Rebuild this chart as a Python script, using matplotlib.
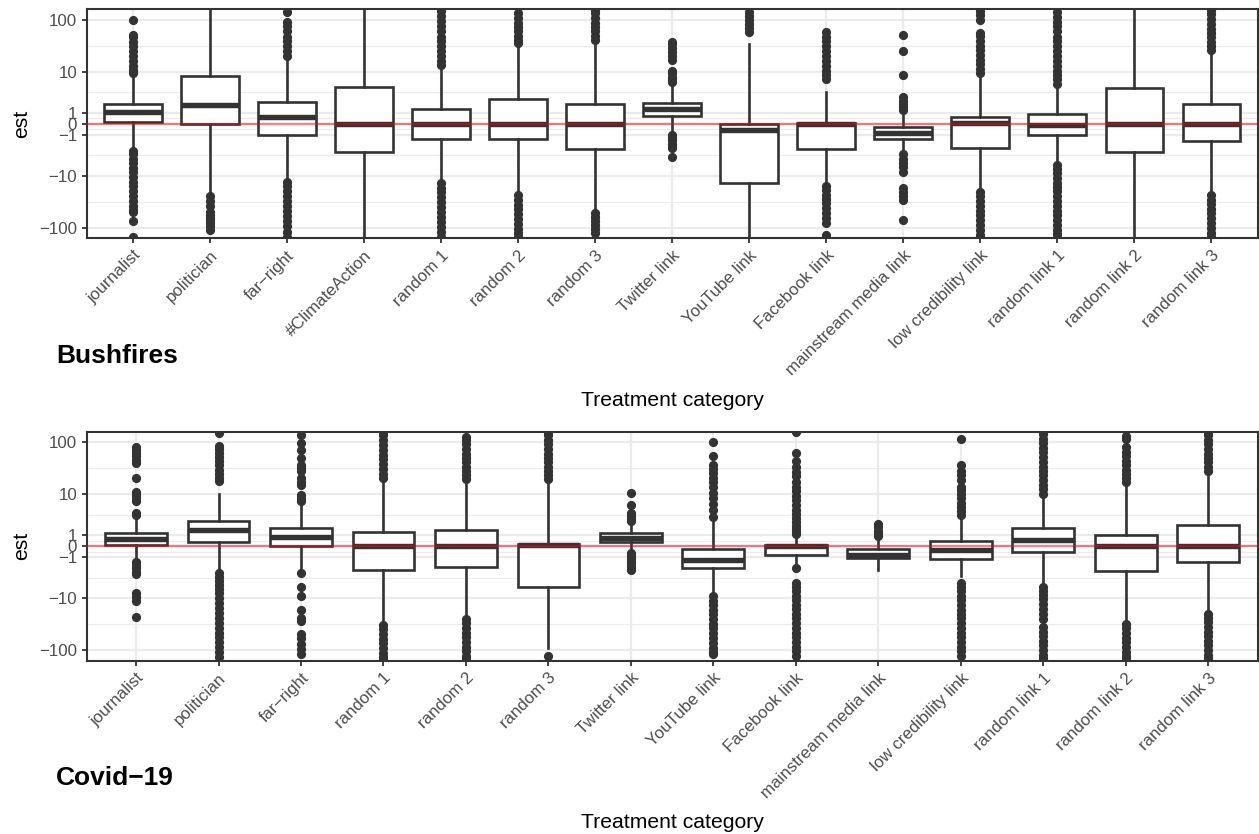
import numpy as np
import matplotlib
matplotlib.use("Agg")
import matplotlib.pyplot as plt
from matplotlib.ticker import FixedLocator

plt.rcParams['font.family'] = ['Liberation Sans', 'DejaVu Sans']

# ---------------- Bushfires ----------------
cats_bush = ["journalist", "politician", "far\u2212right", "#ClimateAction", "random 1",
             "random 2", "random 3", "Twitter link", "YouTube link", "Facebook link",
             "mainstream media link", "low credibility link", "random link 1",
             "random link 2", "random link 3"]
q1_bush = [0.12, 0.0, -0.99, -3.2, -1.5, -1.43, -2.7, 0.67, -14.0, -2.75, -1.47, -2.6, -1.08, -3.2, -1.65]
med_bush = [1.1, 1.85, 0.57, 0.0, 0.0, 0.0, 0.0, 1.43, -0.55, -0.02, -0.85, 0.03, -0.15, 0.0, 0.0]
q3_bush = [2.0, 8.4, 2.23, 5.0, 1.4, 2.65, 1.98, 2.1, 0.0, 0.06, -0.27, 0.57, 0.88, 4.6, 1.93]
lo_bush = [-2.6, -25, -12, -400, -13.5, -23, -51, -0.85, -400, -15, -3.4, -20, -5.6, -400, -23]
hi_bush = [8.6, 400, 18, 400, 12.7, 35, 41, 5.3, 35, 3.9, 0.98, 8.6, 5.3, 400, 25]
out_bush = [
    [9.5, 11, 13, 16, 20, 25, 31, 38, 46, 51, 100,
     -3, -3.6, -4.5, -5.5, -7, -8.5, -10.5, -13, -16, -20, -25, -31, -38, -46, -51, -75, -150],
    [-25, -30, -39, -51, -58, -64, -72, -80, -95, -110],
    [20, 25, 31, 39, 48, 60, 75, 92, 140,
     -13, -16, -20, -25, -31, -39, -48, -60, -75, -95, -120, -150],
    [],
    [13.5, 16, 20, 25, 31, 39, 48, 60, 75, 95, 120, 150,
     -14, -17, -21, -26, -32, -40, -50, -62, -78, -98, -120, -150],
    [36, 42, 50, 60, 72, 88, 110, 136,
     -24, -29, -36, -44, -55, -68, -84, -104, -128, -155],
    [42, 50, 60, 72, 88, 110, 136, 155,
     -52, -62, -75, -90, -108, -125],
    [6.2, 7.0, 8.0, 9.5, 10.2, 17, 20, 24, 29, 34, 38,
     -1.0, -1.3, -1.6, -2.0, -2.3, -2.6, -4.1],
    [59, 70, 85, 100, 120, 145],
    [7.0, 8.5, 10.5, 13, 16, 20, 25, 31, 39, 48, 59,
     -15.5, -19, -23, -28, -34, -42, -52, -64, -80, -140],
    [1.3, 1.6, 2.0, 2.4, 2.9, 8.6, 25, 51,
     -3.6, -4.5, -5.5, -6.8, -8.2, -17, -21, -25, -29, -70],
    [9.5, 11.5, 14, 17, 21, 26, 32, 40, 50, 57, 100, 125, 150,
     -21, -25, -31, -38, -47, -58, -72, -90, -110, -140, -158],
    [5.8, 7, 8.5, 10.5, 13, 16, 20, 25, 31, 39, 48, 60, 75, 92, 115, 140,
     -6, -7.2, -8.8, -11, -13.5, -16.5, -20, -25, -31, -38, -47, -58, -72, -90, -110, -135, -158],
    [],
    [26, 31, 38, 46, 56, 68, 84, 104, 128, 155,
     -24, -29, -35, -43, -53, -65, -80, -100, -125, -155],
]

# ---------------- Covid-19 ----------------
cats_covid = ["journalist", "politician", "far\u2212right", "random 1", "random 2", "random 3",
              "Twitter link", "YouTube link", "Facebook link", "mainstream media link",
              "low credibility link", "random link 1", "random link 2", "random link 3"]
q1_covid = [0.1, 0.37, 0.0, -2.5, -2.05, -6.0, 0.34, -2.25, -0.78, -1.1, -1.24, -0.5, -2.72, -1.48]
med_covid = [0.68, 1.62, 0.89, 0.0, 0.0, 0.07, 0.74, -1.27, 0.0, -0.8, -0.31, 0.53, 0.0, 0.0]
q3_covid = [1.24, 2.8, 1.75, 1.35, 1.59, 0.22, 1.24, -0.25, 0.07, -0.25, 0.43, 1.77, 1.06, 2.18]
lo_covid = [-1.27, -2.9, -2.4, -32, -24, -90, -0.53, -8.5, -1.85, -2.45, -3.5, -5.5, -30, -19]
hi_covid = [2.93, 10.2, 6.1, 20.5, 19, 19, 2.4, 2.93, 1.0, 0.59, 2.9, 9.7, 16.5, 27.5]
out_covid = [
    [3.7, 4.2, 7.4, 8.5, 9.8, 11, 20.5, 40, 46, 54, 62, 72, 83,
     -1.5, -1.9, -2.3, -2.8, -3.2, -7.8, -9.2, -11.5, -22.5],
    [18, 21, 25, 30, 36, 43, 52, 62, 74, 85, 150,
     -3.0, -3.6, -4.4, -5.4, -6.6, -8, -10, -12.5, -15.5, -19, -24, -30, -37, -46, -57, -70, -87, -108, -135],
    [7.4, 8.5, 9.7, 15, 17, 20.5, 27.5, 32, 36, 50, 71, 96, 140,
     -3.0, -5.9, -8.8, -16.6, -24, -27, -49, -58, -78, -95, -121],
    [21, 25, 31, 38, 47, 58, 72, 90, 112, 140, 160,
     -33, -40, -49, -60, -74, -91, -112, -135, -158],
    [19.5, 23.5, 28.5, 34, 41, 50, 61, 75, 92, 112, 126,
     -25, -30, -37, -46, -57, -70, -86, -106, -130, -140],
    [19.5, 23.5, 28.5, 34, 41, 50, 61, 75, 92, 112, 136, 158,
     -130],
    [2.75, 3.1, 3.5, 4.1, 6.1, 10.5,
     -0.65, -0.9, -1.2, -1.5, -1.8, -2.1, -2.45],
    [3.4, 4.7, 6.5, 8.3, 10.5, 14, 17, 21, 26, 31, 36, 54, 103,
     -9, -11, -13.5, -16.5, -20, -25, -31, -38, -47, -58, -72, -90, -110, -120],
    [1.15, 1.4, 1.7, 2.1, 2.6, 3.2, 3.9, 4.8, 6, 7.5, 9.3, 11.5, 14, 17.5, 22, 27, 34, 43, 62, 160,
     -2.3, -4.8, -5.9, -7.2, -8.8, -10.8, -13.2, -16, -20, -24, -30, -37, -46, -57, -70, -86, -106, -130],
    [0.9, 1.2, 1.5, 1.9, 2.35],
    [3.7, 4.5, 5.5, 6.8, 8.3, 10, 12, 14, 19, 23, 28, 36, 117,
     -4.8, -5.9, -7.2, -8.8, -10.8, -13.2, -17, -20, -24, -30, -37, -46, -57, -70, -86, -106, -130],
    [10.2, 12.5, 15, 18.5, 23, 28, 34, 42, 52, 64, 78, 96, 118, 145, 160,
     -5.8, -7, -8.5, -10.5, -13, -16, -20, -25, -36, -44, -54, -66, -81, -100, -122, -140],
    [17, 20.5, 25, 30, 36.5, 44, 54, 66, 80, 115, 135,
     -31, -38, -47, -58, -71, -87, -107, -130, -145],
    [28.5, 34, 41, 50, 61, 75, 92, 112, 136, 158,
     -20, -24, -29, -36, -44, -54, -66, -81, -100, -122, -145],
]

y_ticks = [-100, -10, -1, 0, 1, 10, 100]
y_ticklabels = ["\u2212100", "\u221210", "\u22121", "0", "1", "10", "100"]


def fwd(y):
    return np.arcsinh(np.asarray(y, dtype=float) / 2.0) / np.log(10)


def inv(t):
    return 2.0 * np.sinh(np.asarray(t, dtype=float) * np.log(10))


W, H = 1259, 834
fig = plt.figure(figsize=(W / 100, H / 100), dpi=100)

DARK = '#333333'
GRID = '#EBEBEB'


def draw_panel(rect, cats, q1, med, q3, lo, hi, outs, ylim):
    ax = fig.add_axes(rect)
    ax.set_yscale('function', functions=(fwd, inv))
    n = len(cats)
    stats = []
    for i in range(n):
        stats.append(dict(q1=q1[i], med=med[i], q3=q3[i], whislo=lo[i], whishi=hi[i],
                          fliers=np.array(outs[i], dtype=float)))
    pos = np.arange(1, n + 1)
    ax.bxp(stats, positions=pos, widths=0.75, patch_artist=True, showcaps=False,
           boxprops=dict(facecolor='white', edgecolor=DARK, linewidth=1.9),
           medianprops=dict(color=DARK, linewidth=3.9, solid_capstyle='butt'),
           whiskerprops=dict(color=DARK, linewidth=1.9),
           flierprops=dict(marker='o', markerfacecolor=DARK, markeredgecolor=DARK,
                           markersize=5.6, linestyle='none'),
           zorder=3)
    ax.axhline(0, color='red', alpha=0.5, linewidth=1.6, zorder=4)
    ax.set_xlim(0.4, n + 0.6)
    ax.set_ylim(*ylim)
    ax.set_yticks(y_ticks)
    ax.set_yticklabels(y_ticklabels)
    tmaj = fwd(y_ticks)
    minors = inv((tmaj[:-1] + tmaj[1:]) / 2.0)
    ax.yaxis.set_minor_locator(FixedLocator(minors))
    ax.set_xticks(pos)
    ax.set_xticklabels(cats, rotation=45, ha='right', va='top', rotation_mode='anchor')
    ax.tick_params(axis='both', which='major', length=3.75, width=1.3, color=DARK,
                   labelsize=12.2, labelcolor='#4D4D4D', pad=3)
    ax.tick_params(axis='y', which='minor', length=0)
    ax.set_axisbelow(True)
    ax.grid(True, which='major', color=GRID, linewidth=1.6)
    ax.grid(True, which='minor', axis='y', color=GRID, linewidth=0.8)
    for sp in ax.spines.values():
        sp.set_color(DARK)
        sp.set_linewidth(1.5)
    return ax


left = 86.6 / W
width = (1257.7 - 86.6) / W
ph = 229.0 / H

ax1 = draw_panel([left, 1 - 238.3 / H, width, ph], cats_bush, q1_bush, med_bush, q3_bush,
                 lo_bush, hi_bush, out_bush, (-160.6, 160.6))
ax2 = draw_panel([left, 1 - 660.7 / H, width, ph], cats_covid, q1_covid, med_covid, q3_covid,
                 lo_covid, hi_covid, out_covid, (-160.0, 160.5))

# axis titles
for ycen in [(9.3 + 238.3) / 2, (431.7 + 660.7) / 2]:
    fig.text(22 / W, 1 - ycen / H, "est", rotation=90, ha='center', va='center',
             fontsize=15.2, color='black')
for yb in [405.6, 828.0]:
    fig.text(672 / W, 1 - yb / H, "Treatment category", ha='center', va='baseline',
             fontsize=15.2, color='black')

fig.text(56 / W, 1 - 362.7 / H, "Bushfires", ha='left', va='baseline',
         fontsize=19, fontweight='bold', color='black')
fig.text(56 / W, 1 - 785.1 / H, "Covid\u221219", ha='left', va='baseline',
         fontsize=19, fontweight='bold', color='black')

fig.savefig("out.png", dpi=100)
